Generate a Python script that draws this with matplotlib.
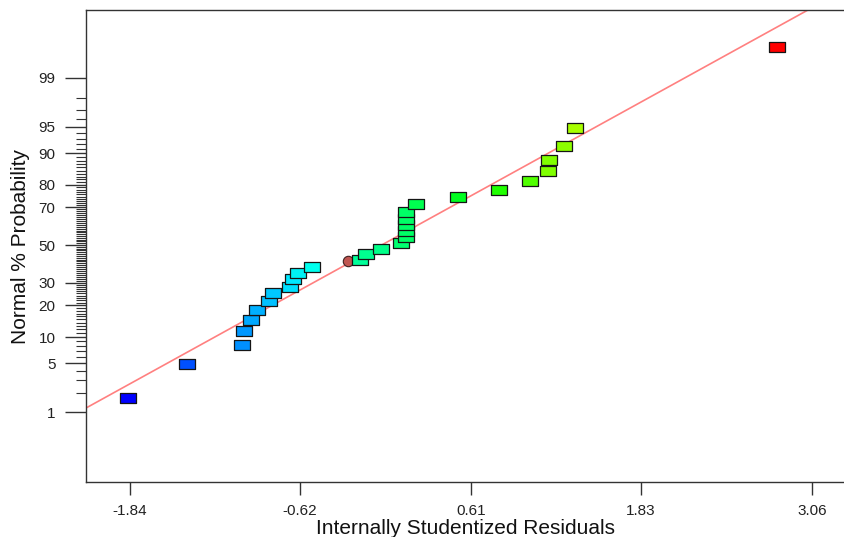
import matplotlib
matplotlib.use("Agg")
import matplotlib.pyplot as plt
from matplotlib.path import Path
from statistics import NormalDist

# ---------------- data ----------------
residuals = [-1.854, -1.430, -1.037, -1.021, -0.969, -0.929, -0.841, -0.812,
             -0.687, -0.671, -0.633, -0.529, -0.185, -0.143, -0.034, 0.105,
             0.143, 0.143, 0.143, 0.143, 0.143, 0.213, 0.517, 0.811, 1.032,
             1.163, 1.170, 1.278, 1.357, 2.808]
probability = [1.65, 4.9, 8.2, 11.5, 14.8, 18.3, 21.8, 25.0, 27.9, 31.6,
               34.8, 38.0, 41.5, 44.8, 48.0, 51.2, 54.7, 58.0, 61.2, 64.4,
               67.8, 71.6, 74.8, 77.9, 81.4, 84.9, 88.2, 91.5, 94.9, 99.71]
point_colors = ["#0000FF", "#0050FF", "#0090FF", "#0098FF", "#00A8FF", "#00B0FF",
                "#00C0FF", "#00C8FF", "#00E0FF", "#00E8FF", "#00F0F4", "#00FFEE",
                "#00FF99", "#00FF90", "#00FF88", "#00FF70", "#00FF66", "#00FF66",
                "#00FF66", "#00FF66", "#00FF66", "#00FF50", "#00FF20", "#20FF00",
                "#50FF00", "#80FF00", "#80FF00", "#8CFF00", "#A8FF00", "#FF0000"]
extra_resid = [-0.274]
extra_prob = [41.2]
line_slope = 1.0686       # in z units per residual unit
line_intercept = 0.034

x_ticks = [-1.84, -0.62, 0.61, 1.83, 3.06]
y_major = [1, 5, 10, 20, 30, 50, 70, 80, 90, 95, 99]
y_minor = [v for v in range(2, 99) if v not in y_major]

# ----------------------------------------------------------------
nd = NormalDist()
def z(p):
    return nd.inv_cdf(p / 100.0)

plt.rcParams['font.family'] = ['Liberation Sans', 'DejaVu Sans']

fig = plt.figure(figsize=(8.44, 5.37), dpi=100)
ax = fig.add_axes([86 / 844, 55 / 537, 1 - 86 / 844, 472 / 537])

xmin, xmax = -2.156, 3.29
ax.set_xlim(xmin, xmax)
ax.set_ylim(-3.30, 3.273)

# reference line
lx = [xmin, xmax]
ax.plot(lx, [line_intercept + line_slope * v for v in lx], color="#FF8080",
        lw=1.2, zorder=2, solid_capstyle="butt")

# extra (half hidden) round marker
ax.scatter(extra_resid, [z(p) for p in extra_prob], s=7.5 ** 2, marker="o",
           facecolor="#C05550", edgecolor="#402020", linewidth=0.8, zorder=3)

rect = Path([(-1, -0.6), (1, -0.6), (1, 0.6), (-1, 0.6), (-1, -0.6)],
            [Path.MOVETO, Path.LINETO, Path.LINETO, Path.LINETO, Path.CLOSEPOLY])
for xv, pv, c in zip(residuals, probability, point_colors):
    ax.plot([xv], [z(pv)], linestyle="none", marker=rect, markersize=11,
            markerfacecolor=c, markeredgecolor="#151515", markeredgewidth=0.9,
            zorder=4)

# axes styling
for s in ["right"]:
    ax.spines[s].set_visible(False)
for s in ["left", "top", "bottom"]:
    ax.spines[s].set_color("#333333")
    ax.spines[s].set_linewidth(1.0)

ax.set_xticks(x_ticks)
ax.set_xticklabels([f"{v:.2f}" for v in x_ticks])
ax.tick_params(axis="x", direction="out", length=9.5, width=1.0, color="#333333",
               pad=6, labelsize=11, labelcolor="#222222")

ax.set_yticks([z(v) for v in y_major])
ax.set_yticklabels([str(v) for v in y_major])
ax.set_yticks([z(v) for v in y_minor], minor=True)
ax.tick_params(axis="y", which="major", direction="out", length=15, width=1.0,
               color="#333333", pad=7, labelsize=11, labelcolor="#222222")
ax.tick_params(axis="y", which="minor", direction="out", length=7, width=0.8,
               color="#333333")

ax.set_xlabel("Internally Studentized Residuals", fontsize=15, color="#111111",
              labelpad=1)
ax.set_ylabel("Normal % Probability", fontsize=15, color="#111111", labelpad=6)

fig.savefig("out.png", dpi=100)
